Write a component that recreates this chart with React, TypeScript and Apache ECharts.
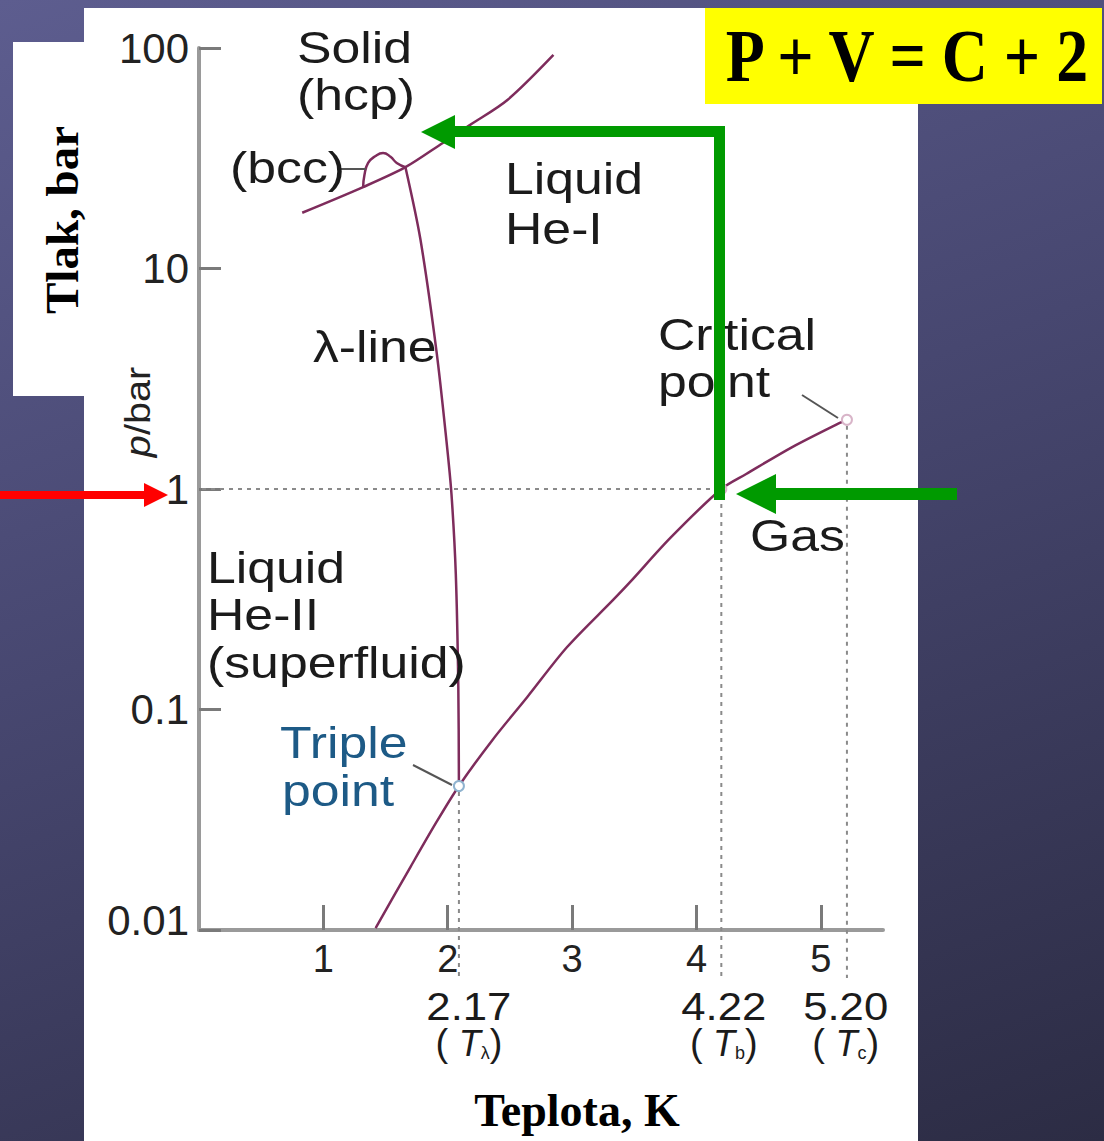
import React, { useEffect, useRef } from "react";
import * as echarts from "echarts";

// ---------- data ----------
const xTickValues = [1, 2, 3, 4, 5];
const yTickValues = [0.01, 0.1, 1, 10, 100];
const yTickLabels = ["0.01", "0.1", "1", "10", "100"];

// solid (hcp) / liquid melting curve
const meltingT = [0.83, 1.32, 1.66, 1.96, 2.18, 2.48, 2.85];
const meltingP = [17.9, 23.4, 28.8, 37.1, 44.8, 58.1, 93.0];

// small bcc loop
const bccT = [1.32, 1.33, 1.36, 1.42, 1.48, 1.54, 1.59, 1.66];
const bccP = [23.4, 26.5, 30.1, 32.4, 33.4, 32.1, 30.1, 28.8];

// lambda line
const lambdaT = [1.66, 1.78, 1.91, 1.99, 2.03, 2.065, 2.085, 2.09];
const lambdaP = [28.8, 13.6, 4.2, 1.65, 0.95, 0.41, 0.128, 0.045];

// liquid / vapour curve
const vapourT = [1.42, 1.7, 1.91, 2.09, 2.36, 2.64, 2.96, 3.33, 3.46, 3.79, 4.2, 4.4, 4.77, 5.14, 5.21];
const vapourP = [0.0102, 0.0193, 0.0309, 0.045, 0.0728, 0.114, 0.192, 0.314, 0.375, 0.6, 1.0, 1.17, 1.55, 1.98, 2.06];

// special points (triple, normal boiling, critical)
const pointT = [2.09, 4.2, 5.21];
const pointP = [0.045, 1.0, 2.06];
const pointColors = ["#8fb3cf", "#d8b4c8", "#d8b4c8"];

// labels under the axis
const specialT = [2.17, 4.22, 5.2];
const specialText = ["2.17", "4.22", "5.20"];
const specialSub = ["λ", "b", "c"];

// 1 bar reference line
const refP = 1;
const refT = 4.2;

// ---------- styles ----------
const SANS = "'Liberation Sans', Arial, Helvetica, sans-serif";
const SERIF = "'Liberation Serif', 'Times New Roman', Times, serif";
const CURVE = "#7e2c5c";
const GREEN = "#009a00";
const RED = "#ff0000";

const fmtY = (v: number) => {
  const i = yTickValues.findIndex((t) => Math.abs(Math.log10(t) - Math.log10(v)) < 0.01);
  if (i < 0) return "";
  return i === 0 ? `{lo|${yTickLabels[i]}}` : yTickLabels[i];
};

const txt = (
  text: string,
  x: number,
  y: number,
  o: { size?: number; color?: string; weight?: string; family?: string; align?: string; sx?: number; sy?: number; rot?: number; style?: string; rich?: any } = {}
) => ({
  type: "text",
  x,
  y,
  rotation: o.rot ?? 0,
  scaleX: o.sx ?? 1,
  scaleY: o.sy ?? 1,
  z: 50,
  silent: true,
  style: {
    legacy: false,
    text,
    fill: o.color ?? "#1b1b1b",
    font: `${o.style ?? "normal"} ${o.weight ?? "normal"} ${o.size ?? 45}px ${o.family ?? SANS}`,
    align: o.align ?? "left",
    verticalAlign: "middle",
    rich: o.rich,
  },
});

const rect = (x: number, y: number, w: number, h: number, fill: string, z: number) => ({
  type: "rect",
  z,
  silent: true,
  shape: { x, y, width: w, height: h },
  style: { fill },
});

const poly = (points: number[][], fill: string, z: number) => ({
  type: "polygon",
  z,
  silent: true,
  shape: { points },
  style: { fill },
});

const seg = (x1: number, y1: number, x2: number, y2: number) => ({
  type: "line",
  z: 40,
  silent: true,
  shape: { x1, y1, x2, y2 },
  style: { stroke: "#555", lineWidth: 2 },
});

const region = { size: 45, sx: 1.15 };
const graphic = [
  // panels
  rect(84, 8, 834, 1133, "#ffffff", -20),
  rect(13, 42, 71, 354, "#ffffff", -20),
  rect(705, 8, 397, 96, "#ffff00", -10),
  // region labels
  txt("Solid", 297, 47, region),
  txt("(hcp)", 297, 94, region),
  txt("(bcc)", 230, 167, region),
  txt("Liquid", 505, 178, region),
  txt("He-I", 505, 228, region),
  txt("λ-line", 313, 346, region),
  txt("Critical", 658, 334, region),
  txt("point", 658, 381, region),
  txt("Gas", 750, 535, region),
  txt("Liquid", 207, 567, region),
  txt("He-II", 207, 614, region),
  txt("(superfluid)", 207, 662, region),
  txt("Triple", 280, 742, { ...region, color: "#1d5a86" }),
  txt("point", 282, 790, { ...region, color: "#1d5a86" }),
  // leader lines
  seg(337, 169, 366, 169),
  seg(413, 765, 452, 785),
  seg(802, 395, 838, 418),
  // axis titles
  txt("{i|p}{n|/bar}", 138, 412, {
    size: 36,
    rot: Math.PI / 2,
    align: "center",
    sx: 1.1,
    color: "#222",
    rich: {
      i: { font: `italic 36px ${SANS}`, fill: "#222" },
      n: { font: `36px ${SANS}`, fill: "#222" },
    },
  }),
  txt("Tlak, bar", 62, 220, { size: 47, weight: "bold", family: SERIF, rot: Math.PI / 2, align: "center", color: "#000" }),
  txt("Teplota, K", 577, 1110, { size: 46, weight: "bold", family: SERIF, align: "center", color: "#000" }),
  txt("P + V = C + 2", 907, 56, { size: 62, weight: "bold", family: SERIF, align: "center", sx: 1.03, sy: 1.2, color: "#000" }),
  // green arrows
  rect(450, 126, 275, 11, GREEN, 60),
  poly([[421, 132], [455, 115], [455, 149]], GREEN, 60),
  rect(714, 126, 11, 374, GREEN, 60),
  rect(772, 488, 185, 12, GREEN, 60),
  poly([[736, 494], [776, 474], [776, 514]], GREEN, 60),
  // red arrow
  rect(0, 491, 146, 8, RED, 60),
  poly([[168, 495], [144, 483], [144, 507]], RED, 60),
];

const lineSeries = (name: string, ts: number[], ps: number[], smooth: number) => ({
  name,
  type: "line",
  data: ts.map((t, i) => [t, ps[i]]),
  smooth,
  showSymbol: false,
  silent: true,
  z: 3,
  lineStyle: { color: CURVE, width: 2.5 },
});

const option = {
  animation: false,
  backgroundColor: "transparent",
  grid: { left: 199, top: 48, width: 684, height: 882, containLabel: false, outerBoundsMode: "none" },
  xAxis: {
    type: "value",
    min: 0,
    max: 5.5,
    interval: 1,
    axisLine: { onZero: false, lineStyle: { color: "#9a9a9a", width: 4 } },
    axisTick: { inside: true, length: 25, customValues: xTickValues, lineStyle: { color: "#7a7a7a", width: 3 } },
    axisLabel: { customValues: xTickValues, color: "#222", fontSize: 38, fontFamily: SANS, margin: 10 },
    splitLine: { show: false },
  },
  yAxis: {
    type: "log",
    logBase: 10,
    min: 0.01,
    max: 100,
    axisLine: { show: true, onZero: false, lineStyle: { color: "#9a9a9a", width: 4 } },
    axisTick: { show: true, inside: true, length: 22, lineStyle: { color: "#7a7a7a", width: 3 } },
    axisLabel: {
      color: "#222",
      fontSize: 42,
      fontFamily: SANS,
      margin: 10,
      formatter: fmtY,
      rich: { lo: { fontSize: 42, fontFamily: SANS, color: "#222", padding: [0, 0, 20, 0] } },
    },
    splitLine: { show: false },
    minorTick: { show: false },
  },
  graphic,
  series: [
    lineSeries("melting", meltingT, meltingP, 0.3),
    lineSeries("bcc", bccT, bccP, 0.5),
    lineSeries("lambda", lambdaT, lambdaP, 0.3),
    lineSeries("vapour", vapourT, vapourP, 0.3),
    {
      name: "reference",
      type: "custom",
      silent: true,
      clip: false,
      z: 2,
      data: [[0, refP, refT]],
      renderItem: (_p: any, api: any) => {
        const a = api.coord([api.value(0), api.value(1)]);
        const b = api.coord([api.value(2), api.value(1)]);
        return {
          type: "line",
          shape: { x1: a[0] + 3, y1: a[1], x2: b[0] - 6, y2: b[1] },
          style: { stroke: "#8a8a8a", lineWidth: 2, lineDash: [4, 5] },
        };
      },
    },
    {
      name: "points",
      type: "custom",
      silent: true,
      clip: false,
      z: 4,
      data: pointT.map((t, i) => [t, pointP[i]]),
      renderItem: (params: any, api: any) => {
        const pt = api.coord([api.value(0), api.value(1)]);
        const base = api.coord([api.value(0), yTickValues[0]]);
        return {
          type: "group",
          children: [
            {
              type: "line",
              shape: { x1: pt[0], y1: pt[1] + 6, x2: pt[0], y2: base[1] + 48 },
              style: { stroke: "#8a8a8a", lineWidth: 2, lineDash: [4, 5] },
            },
            {
              type: "circle",
              shape: { cx: pt[0], cy: pt[1], r: 5 },
              style: { fill: "#ffffff", stroke: pointColors[params.dataIndex], lineWidth: 2 },
            },
          ],
        };
      },
    },
    {
      name: "specialLabels",
      type: "custom",
      silent: true,
      clip: false,
      z: 5,
      data: specialT.map((t) => [t, yTickValues[0]]),
      renderItem: (params: any, api: any) => {
        const pt = api.coord([api.value(0), api.value(1)]);
        const i = params.dataIndex;
        return {
          type: "group",
          children: [
            {
              type: "text",
              x: pt[0],
              y: pt[1] + 77,
              scaleX: 1.15,
              style: {
                legacy: false,
                text: specialText[i],
                fill: "#1b1b1b",
                font: `38px ${SANS}`,
                align: "center",
                verticalAlign: "middle",
              },
            },
            {
              type: "text",
              x: pt[0],
              y: pt[1] + 113,
              style: {
                legacy: false,
                text: `{p|( }{t|T}{s|${specialSub[i]}}{p|)}`,
                fill: "#1b1b1b",
                align: "center",
                verticalAlign: "middle",
                rich: {
                  p: { font: `38px ${SANS}`, fill: "#1b1b1b" },
                  t: { font: `italic 36px ${SANS}`, fill: "#1b1b1b" },
                  s: { font: `18px ${SANS}`, fill: "#1b1b1b", verticalAlign: "bottom" },
                },
              },
            },
          ],
        };
      },
    },
  ],
};

export default function App() {
  const ref = useRef<HTMLDivElement>(null);
  useEffect(() => {
    const chart = echarts.init(ref.current!, undefined, { renderer: "svg" });
    chart.setOption(option as any);
    return () => chart.dispose();
  }, []);
  return (
    <div
      ref={ref}
      style={{
        position: "fixed",
        left: 0,
        top: 0,
        width: 1104,
        height: 1141,
        background: "linear-gradient(160deg, #5d5d8f 0%, #474770 45%, #2c2c44 100%)",
      }}
    />
  );
}
